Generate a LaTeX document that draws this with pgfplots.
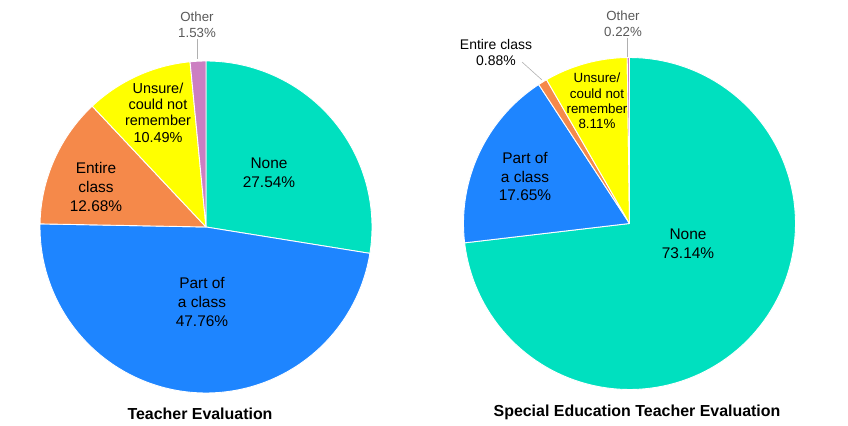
\documentclass[border=0pt]{standalone}
\usepackage{pgfplots}
\pgfplotsset{compat=1.18}
\usepackage{fontspec}
\setmainfont{Liberation Sans}
\definecolor{cNone}{HTML}{00E0BF}
\definecolor{cPart}{HTML}{1E85FF}
\definecolor{cEntire}{HTML}{F5894A}
\definecolor{cUnsure}{HTML}{FFFF00}
\definecolor{cOther}{HTML}{CC7FC2}
\definecolor{lblgray}{HTML}{595959}
\definecolor{leader}{HTML}{B0B0B0}

% #1 = cumulative start (percent), #2 = share (percent), #3 = colour
\newcommand{\pieslice}[3]{%
  \pgfmathsetmacro\sa{90-3.6*#1}%
  \pgfmathsetmacro\sb{90-3.6*(#1+#2)}%
  \edef\temp{\noexpand\addplot[fill=#3, draw=white, line width=0.9pt, line join=round, domain=\sb:\sa, samples=120, variable=\noexpand\t] ({cos(\noexpand\t)},{sin(\noexpand\t)}) -- (axis cs:0,0) -- cycle;}%
  \temp}

\tikzset{lbl/.style={align=center, text=black, inner sep=0pt, font=\fontsize{15.5}{19}\selectfont}}

\begin{document}
\begin{tikzpicture}
\path[use as bounding box] (0,0) rectangle (848bp,426bp);

% Teacher Evaluation
\begin{axis}[at={(206bp,199bp)}, anchor=origin, scale only axis, width=332bp, height=332bp,
  xmin=-1, xmax=1, ymin=-1, ymax=1, hide axis, clip=false]
  \pieslice{0}{27.54}{cNone}
  \pieslice{27.54}{47.76}{cPart}
  \pieslice{75.30}{12.68}{cEntire}
  \pieslice{87.98}{10.49}{cUnsure}
  \pieslice{98.47}{1.53}{cOther}
\end{axis}

% Special Education Teacher Evaluation
\begin{axis}[at={(629.5bp,202.5bp)}, anchor=origin, scale only axis, width=332bp, height=332bp,
  xmin=-1, xmax=1, ymin=-1, ymax=1, hide axis, clip=false]
  \pieslice{0}{73.14}{cNone}
  \pieslice{73.14}{17.65}{cPart}
  \pieslice{90.79}{0.88}{cEntire}
  \pieslice{91.67}{8.11}{cUnsure}
  \pieslice{99.78}{0.22}{cOther}
\end{axis}

% leader lines
\draw[leader, line width=0.6pt] (197.5bp,387bp) -- (197.5bp,367bp);
\draw[leader, line width=0.6pt] (627.5bp,388bp) -- (627.5bp,369bp);
\draw[leader, line width=0.6pt] (522bp,364bp) -- (542bp,346bp);

% labels left
\node[lbl, text=lblgray, font=\fontsize{13.3}{16}\selectfont] at (197bp,401bp) {Other\\1.53\%};
\node[lbl, font=\fontsize{14.5}{16.3}\selectfont] at (158bp,313.5bp) {Unsure/\\could not\\remember\\10.49\%};
\node[lbl] at (269bp,253bp) {None\\27.54\%};
\node[lbl] at (96bp,239bp) {Entire\\class\\12.68\%};
\node[lbl] at (202bp,124bp) {Part of\\a class\\47.76\%};
\node[font=\bfseries\fontsize{16}{19}\selectfont, inner sep=0pt] at (200bp,12bp) {Teacher Evaluation};

% labels right
\node[lbl, text=lblgray, font=\fontsize{13.3}{16}\selectfont] at (623bp,402.5bp) {Other\\0.22\%};
\node[lbl, font=\fontsize{14}{17}\selectfont] at (496bp,373.5bp) {Entire class\\0.88\%};
\node[lbl, font=\fontsize{13.4}{15.3}\selectfont] at (597bp,325bp) {Unsure/\\could not\\remember\\8.11\%};
\node[lbl] at (525bp,249.5bp) {Part of\\a class\\17.65\%};
\node[lbl] at (688bp,182bp) {None\\73.14\%};
\node[font=\bfseries\fontsize{16}{19}\selectfont, inner sep=0pt] at (637bp,14bp) {Special Education Teacher Evaluation};
\end{tikzpicture}
\end{document}
